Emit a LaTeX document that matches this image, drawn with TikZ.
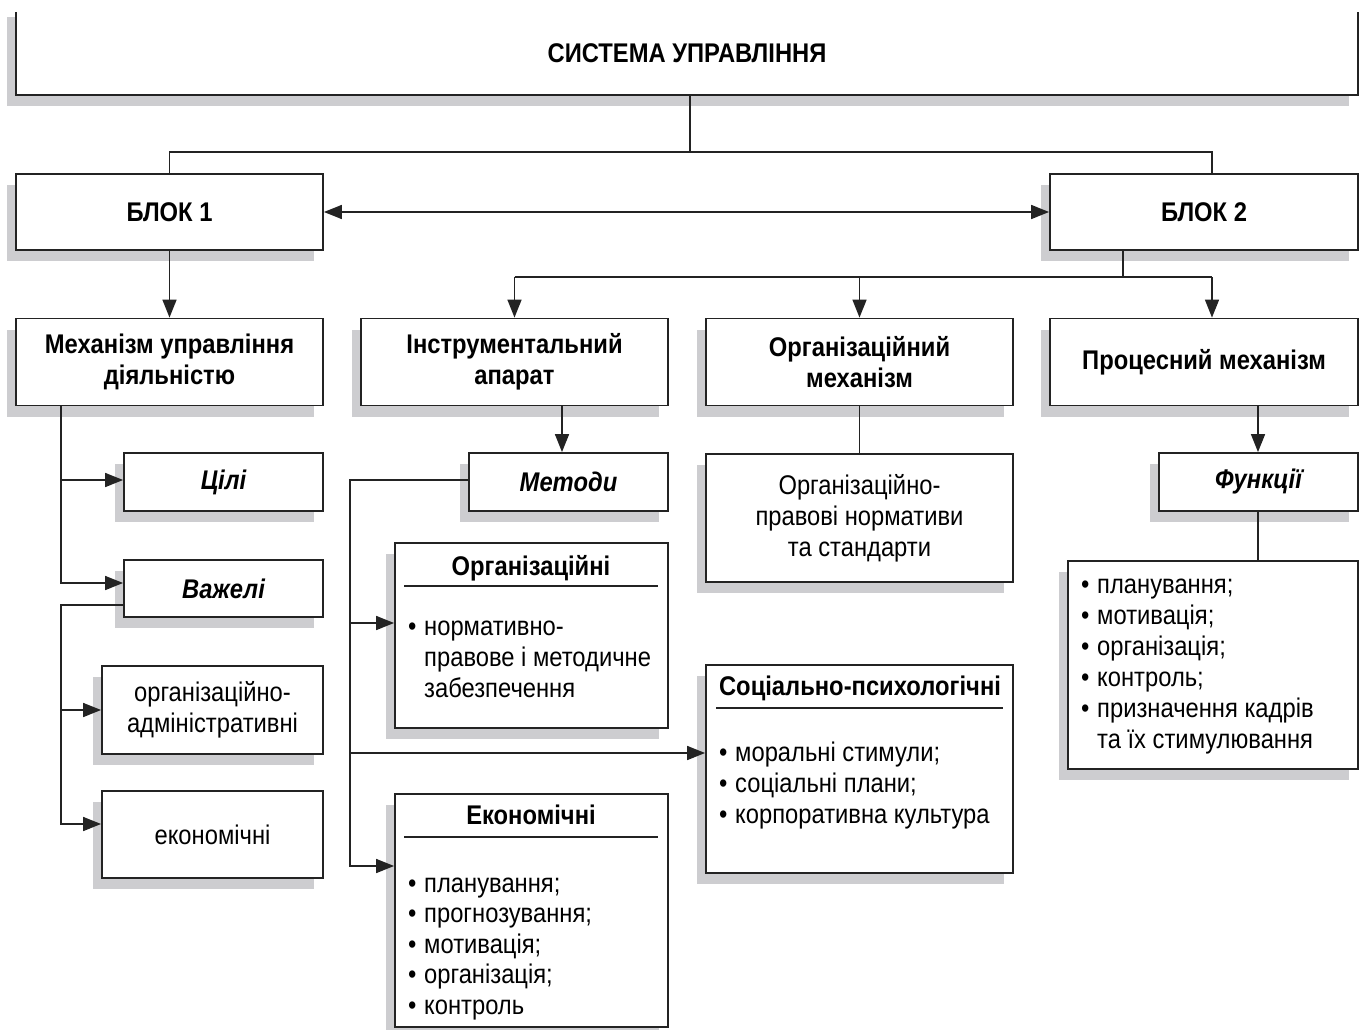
\documentclass[tikz,border=0pt]{standalone}
\usepackage{fontspec}
\setmainfont{Liberation Sans}[FakeStretch=0.88]
\usetikzlibrary{arrows.meta,shadows}
\definecolor{shd}{RGB}{205,205,208}
\definecolor{ln}{RGB}{35,35,35}
\newcommand{\bul}{\makebox[16pt][l]{•}}
\newcommand{\hind}{\hspace*{16pt}}
\tikzset{
  fnt/.style={font=\fontsize{27}{31}\selectfont},
  box/.style={draw=ln, line width=1.8pt, fill=white, inner sep=0pt, align=center, fnt,
    drop shadow={shadow xshift=-9pt, shadow yshift=-11pt, fill=shd, opacity=1}},
  bbox/.style={box, font=\fontsize{27}{31}\selectfont\bfseries},
  ibox/.style={box, font=\fontsize{27}{31}\selectfont\bfseries\itshape},
  conn/.style={draw=ln, line width=1.6pt},
  arr/.style={conn, -{Triangle[length=18pt,width=14pt]}},
  darr/.style={conn, {Triangle[length=18pt,width=14pt]}-{Triangle[length=18pt,width=14pt]}},
  txt/.style={inner sep=0pt, align=left, fnt, anchor=base west},
  ttl/.style={inner sep=0pt, font=\fontsize{27}{31}\selectfont\bfseries, anchor=base},
  uline/.style={draw=ln, line width=1.3pt},
}
\begin{document}
\begin{tikzpicture}[x=1pt,y=-1pt]
\useasboundingbox (0,0) rectangle (1366,1030);
% top box
\fill[shd] (7,17) rectangle (1349,106);
\node[fill=white, inner sep=0pt, minimum width=1342pt, minimum height=83pt,
      font=\fontsize{27}{31}\selectfont\bfseries] (top) at (687,53.5) {СИСТЕМА УПРАВЛІННЯ};
\draw[conn, line width=1.8pt] (top.north west) |- (top.south east) -- (top.north east);

% level 1
\node[bbox, minimum width=307pt, minimum height=76pt] (b1) at (169.5,212) {БЛОК 1};
\node[bbox, minimum width=308pt, minimum height=76pt] (b2) at (1204,212) {БЛОК 2};

% level 2
\node[bbox, minimum width=307pt, minimum height=87pt] (mech) at (169.5,362) {Механізм управління\\діяльністю};
\node[bbox, minimum width=307pt, minimum height=87pt] (instr) at (514.5,362) {Інструментальний\\апарат};
\node[bbox, minimum width=307pt, minimum height=87pt] (org) at (859.5,362) {Організаційний\\механізм};
\node[bbox, minimum width=308pt, minimum height=87pt] (proc) at (1204,362) {Процесний механізм};

% left column
\node[ibox, minimum width=199pt, minimum height=58pt] (cili) at (223.5,482) {Цілі};
\node[ibox, minimum width=199pt, minimum height=57pt] (vaz) at (223.5,588.5) {Важелі};
\node[box, minimum width=221pt, minimum height=88pt] (orgadm) at (212.5,710) {організаційно-\\адміністративні};
\node[box, minimum width=221pt, minimum height=87pt] (econ1) at (212.5,834.5) {економічні};

% methods column
\node[ibox, minimum width=199pt, minimum height=58pt] (met) at (568.5,482) {Методи};
\node[box, minimum width=273pt, minimum height=185pt] (orgbox) at (531.5,635.5) {};
\node[ttl] (orgt) at (531,575) {Організаційні};
\draw[uline] (404,586) -- (658,586);
\node[txt] (orgl) at (408,697) {\bul нормативно-\\\hind правове і методичне\\\hind забезпечення};

\node[box, minimum width=273pt, minimum height=233pt] (econbox) at (531.5,910.5) {};
\node[ttl] (econt) at (531,824) {Економічні};
\draw[uline] (404,837) -- (658,837);
\node[txt, font=\fontsize{27}{30.5}\selectfont] (econl) at (408,1014) {\bul планування;\\\bul прогнозування;\\\bul мотивація;\\\bul організація;\\\bul контроль};

% organizational column
\node[box, minimum width=307pt, minimum height=128pt] (norm) at (859.5,518) {Організаційно-\\правові нормативи\\та стандарти};
\node[box, minimum width=307pt, minimum height=208pt] (socbox) at (859.5,769) {};
\node[ttl] (soct) at (860,695) {Соціально-психологічні};
\draw[uline] (716,708) -- (1003,708);
\node[txt] (socl) at (719,823) {\bul моральні стимули;\\\bul соціальні плани;\\\bul корпоративна культура};

% process column
\node[ibox, minimum width=199pt, minimum height=58pt] (func) at (1258.5,482) {Функції};
\node[box, minimum width=290pt, minimum height=208pt] (flist) at (1213,665) {};
\node[txt] (fl) at (1081,748) {\bul планування;\\\bul мотивація;\\\bul організація;\\\bul контроль;\\\bul призначення кадрів\\\hind та їх стимулювання};

% connectors
\coordinate (t1) at (690,152);
\draw[conn] (top.south -| t1) -- (t1);
\draw[conn] (b1.north) |- (t1) -| (b2.north -| 1212,0);
\draw[darr] (b1.east) -- (b2.west);
\draw[arr] (b1.south) -- (mech.north);

\coordinate (t2) at (1123,277);
\draw[conn] (b2.south -| t2) -- (t2);
\draw[conn] (instr.north |- t2) -- (1212,277);
\draw[arr] (instr.north |- t2) -- (instr.north);
\draw[arr] (org.north |- t2) -- (org.north);
\draw[arr] (1212,277) -- (proc.north -| 1212,0);

\draw[arr] (mech.south -| 61,0) |- (cili.west |- 0,480);
\draw[arr] (mech.south -| 61,0) |- (vaz.west |- 0,583);
\draw[arr] (vaz.west |- 0,605) -- (61,605) |- (econ1.west |- 0,824);
\draw[arr] (61,710) -- (orgadm.west |- 0,710);

\draw[arr] (instr.south -| 562,0) -- (met.north -| 562,0);
\draw[arr] (met.west |- 0,480) -| (350,623) -- (orgbox.west |- 0,623);
\draw[arr] (350,623) |- (econbox.west |- 0,866);
\draw[arr] (350,753) -- (socbox.west |- 0,753);

\draw[conn] (org.south) -- (norm.north);
\draw[arr] (proc.south -| 1258,0) -- (func.north -| 1258,0);
\draw[conn] (func.south -| 1258,0) -- (flist.north -| 1258,0);
\end{tikzpicture}
\end{document}
